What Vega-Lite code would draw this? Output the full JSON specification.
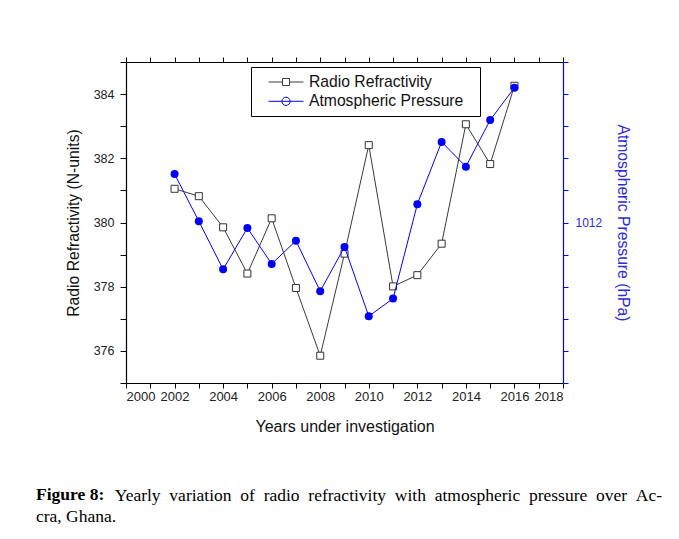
{
  "$schema": "https://vega.github.io/schema/vega-lite/v6.json",
  "width": 437,
  "height": 321,
  "autosize": {"type": "none"},
  "padding": {"left": 126, "top": 62, "right": 116, "bottom": 156},
  "background": "white",
  "config": {
    "view": {"stroke": null},
    "font": "Liberation Sans",
    "axis": {"grid": false, "labelFont": "Liberation Sans", "titleFont": "Liberation Sans", "titleFontWeight": "normal", "domainWidth": 1.2, "tickWidth": 1}
  },
  "title": {
    "text": "Figure 8:",
    "subtitle": ["\u200b\u00a0\u00a0\u00a0\u00a0\u00a0\u00a0\u00a0\u00a0\u00a0\u00a0\u00a0\u00a0\u00a0\u00a0\u00a0\u00a0\u00a0\u00a0Yearly \u00a0variation \u00a0of \u00a0radio \u00a0refractivity \u00a0with \u00a0atmospheric \u00a0pressure \u00a0over \u00a0Ac-", "cra, Ghana."],
    "orient": "bottom",
    "anchor": "start",
    "frame": "group",
    "dx": -90,
    "offset": 52,
    "font": "Liberation Serif",
    "fontSize": 17.5,
    "fontWeight": "bold",
    "color": "black",
    "subtitleFont": "Liberation Serif",
    "subtitleFontSize": 17.5,
    "subtitleFontWeight": "normal",
    "subtitleColor": "black",
    "subtitleLineHeight": 21,
    "subtitlePadding": -17
  },
  "data": {
    "values": [
      {"year": 2002, "series": "Radio Refractivity", "value": 381.05},
      {"year": 2003, "series": "Radio Refractivity", "value": 380.82},
      {"year": 2004, "series": "Radio Refractivity", "value": 379.85},
      {"year": 2005, "series": "Radio Refractivity", "value": 378.41},
      {"year": 2006, "series": "Radio Refractivity", "value": 380.13},
      {"year": 2007, "series": "Radio Refractivity", "value": 377.96},
      {"year": 2008, "series": "Radio Refractivity", "value": 375.85},
      {"year": 2009, "series": "Radio Refractivity", "value": 379.03},
      {"year": 2010, "series": "Radio Refractivity", "value": 382.41},
      {"year": 2011, "series": "Radio Refractivity", "value": 378.01},
      {"year": 2012, "series": "Radio Refractivity", "value": 378.36},
      {"year": 2013, "series": "Radio Refractivity", "value": 379.34},
      {"year": 2014, "series": "Radio Refractivity", "value": 383.06},
      {"year": 2015, "series": "Radio Refractivity", "value": 381.82},
      {"year": 2016, "series": "Radio Refractivity", "value": 384.26},
      {"year": 2002, "series": "Atmospheric Pressure", "value": 1012.151},
      {"year": 2003, "series": "Atmospheric Pressure", "value": 1012.004},
      {"year": 2004, "series": "Atmospheric Pressure", "value": 1011.854},
      {"year": 2005, "series": "Atmospheric Pressure", "value": 1011.983},
      {"year": 2006, "series": "Atmospheric Pressure", "value": 1011.871},
      {"year": 2007, "series": "Atmospheric Pressure", "value": 1011.943},
      {"year": 2008, "series": "Atmospheric Pressure", "value": 1011.786},
      {"year": 2009, "series": "Atmospheric Pressure", "value": 1011.924},
      {"year": 2010, "series": "Atmospheric Pressure", "value": 1011.708},
      {"year": 2011, "series": "Atmospheric Pressure", "value": 1011.763},
      {"year": 2012, "series": "Atmospheric Pressure", "value": 1012.057},
      {"year": 2013, "series": "Atmospheric Pressure", "value": 1012.251},
      {"year": 2014, "series": "Atmospheric Pressure", "value": 1012.174},
      {"year": 2015, "series": "Atmospheric Pressure", "value": 1012.319},
      {"year": 2016, "series": "Atmospheric Pressure", "value": 1012.42}
    ]
  },
  "layer": [
    {
      "transform": [{"filter": "datum.series === 'Radio Refractivity'"}],
      "encoding": {
        "y": {
          "field": "value", "type": "quantitative",
          "scale": {"domain": [375, 385], "nice": false, "zero": false},
          "axis": {
            "orient": "left",
            "values": [375, 376, 377, 378, 379, 380, 381, 382, 383, 384, 385],
            "format": "d",
            "labelExpr": "datum.value % 2 === 0 ? datum.label : ''",
            "tickSize": 6,
            "encode": {"ticks": {"update": {"x2": {"signal": "datum.value % 2 === 0 ? -6 : -3"}}}},
            "domainColor": "black", "tickColor": "black",
            "labelColor": "#222222", "labelFontSize": 12.5, "labelPadding": 6,
            "title": "Radio Refractivity (N-units)", "titleColor": "#111111", "titleFontSize": 15.7, "titlePadding": 12
          }
        }
      },
      "layer": [
        {
          "mark": {"type": "line", "color": "#3a3a3a", "strokeWidth": 1},
          "encoding": {
            "x": {
              "field": "year", "type": "quantitative",
              "scale": {"domain": [2000, 2018], "nice": false, "zero": false},
              "axis": {
                "orient": "bottom",
                "values": [2000, 2001, 2002, 2003, 2004, 2005, 2006, 2007, 2008, 2009, 2010, 2011, 2012, 2013, 2014, 2015, 2016, 2017, 2018],
                "format": "d",
                "labelExpr": "datum.value % 2 === 0 ? datum.label : ''",
                "tickSize": 5,
                "encode": {"ticks": {"update": {"y2": {"signal": "datum.value % 2 === 0 ? 5 : 3"}}}},
                "domainColor": "black", "tickColor": "black",
                "labelColor": "#222222", "labelFontSize": 13, "labelPadding": 2,
                "title": "Years under investigation", "titleColor": "#111111", "titleFontSize": 16, "titlePadding": 15
              }
            }
          }
        },
        {
          "mark": {"type": "point", "shape": "square", "filled": true, "fill": "white", "stroke": "#333333", "strokeWidth": 1, "size": 49, "opacity": 1},
          "encoding": {
            "x": {
              "field": "year", "type": "quantitative",
              "axis": {
                "orient": "top",
                "values": [2000, 2001, 2002, 2003, 2004, 2005, 2006, 2007, 2008, 2009, 2010, 2011, 2012, 2013, 2014, 2015, 2016, 2017, 2018],
                "labels": false,
                "title": null,
                "encode": {"ticks": {"update": {"y2": {"signal": "datum.value % 2 === 0 ? 5 : 3"}}}},
                "domainColor": "black", "tickColor": "black"
              }
            }
          }
        },
        {
          "mark": {"type": "point", "filled": true, "opacity": 0, "size": 49},
          "encoding": {
            "x": {"field": "year", "type": "quantitative", "axis": null},
            "shape": {
              "field": "series", "type": "nominal",
              "scale": {"domain": ["Radio Refractivity", "Atmospheric Pressure"], "range": ["M-2.33,0H-0.47M0.47,0H2.33M-0.47,-0.47H0.47V0.47H-0.47Z", "M-2.33,0H2.33M-0.55,0A0.55,0.55,0,1,0,0.55,0A0.55,0.55,0,1,0,-0.55,0Z"]},
              "legend": {
                "orient": "none", "legendX": 125, "legendY": 5,
                "title": null,
                "strokeColor": "black", "fillColor": "white",
                "padding": 7, "symbolOffset": 20, "symbolSize": 225, "symbolStrokeWidth": 1,
                "labelFont": "Liberation Sans", "labelFontSize": 15.7, "labelColor": "#111111", "labelOffset": 15,
                "labelExpr": "datum.label + '\u00a0\u00a0\u200b'",
                "rowPadding": 3.3, "labelLimit": 300
              }
            },
            "fill": {
              "field": "series", "type": "nominal",
              "scale": {"domain": ["Radio Refractivity", "Atmospheric Pressure"], "range": ["white", "#0000ff"]}
            },
            "stroke": {
              "field": "series", "type": "nominal",
              "scale": {"domain": ["Radio Refractivity", "Atmospheric Pressure"], "range": ["#3a3a3a", "#0000ff"]}
            }
          }
        }
      ]
    },
    {
      "transform": [{"filter": "datum.series === 'Atmospheric Pressure'"}],
      "encoding": {
        "x": {"field": "year", "type": "quantitative", "axis": null},
        "y": {
          "field": "value", "type": "quantitative",
          "scale": {"domain": [1011.5, 1012.5], "nice": false, "zero": false},
          "axis": {
            "orient": "right",
            "values": [1011.5, 1011.6, 1011.7, 1011.8, 1011.9, 1012, 1012.1, 1012.2, 1012.3, 1012.4, 1012.5],
            "labelExpr": "datum.value === 1012 ? '1012' : ''",
            "tickSize": 5,
            "domainColor": "#0000ff", "tickColor": "#0000ff",
            "labelColor": "#2b2bd9", "labelFontSize": 12, "labelPadding": 7,
            "title": "Atmospheric Pressure (hPa)", "titleColor": "#2b2bd9", "titleFontSize": 15.7, "titlePadding": 13
          }
        }
      },
      "layer": [
        {"mark": {"type": "line", "color": "#0000ff", "strokeWidth": 1}},
        {"mark": {"type": "point", "shape": "circle", "filled": true, "color": "#0000ff", "size": 64, "opacity": 1}}
      ]
    }
  ],
  "resolve": {"scale": {"y": "independent"}}
}
